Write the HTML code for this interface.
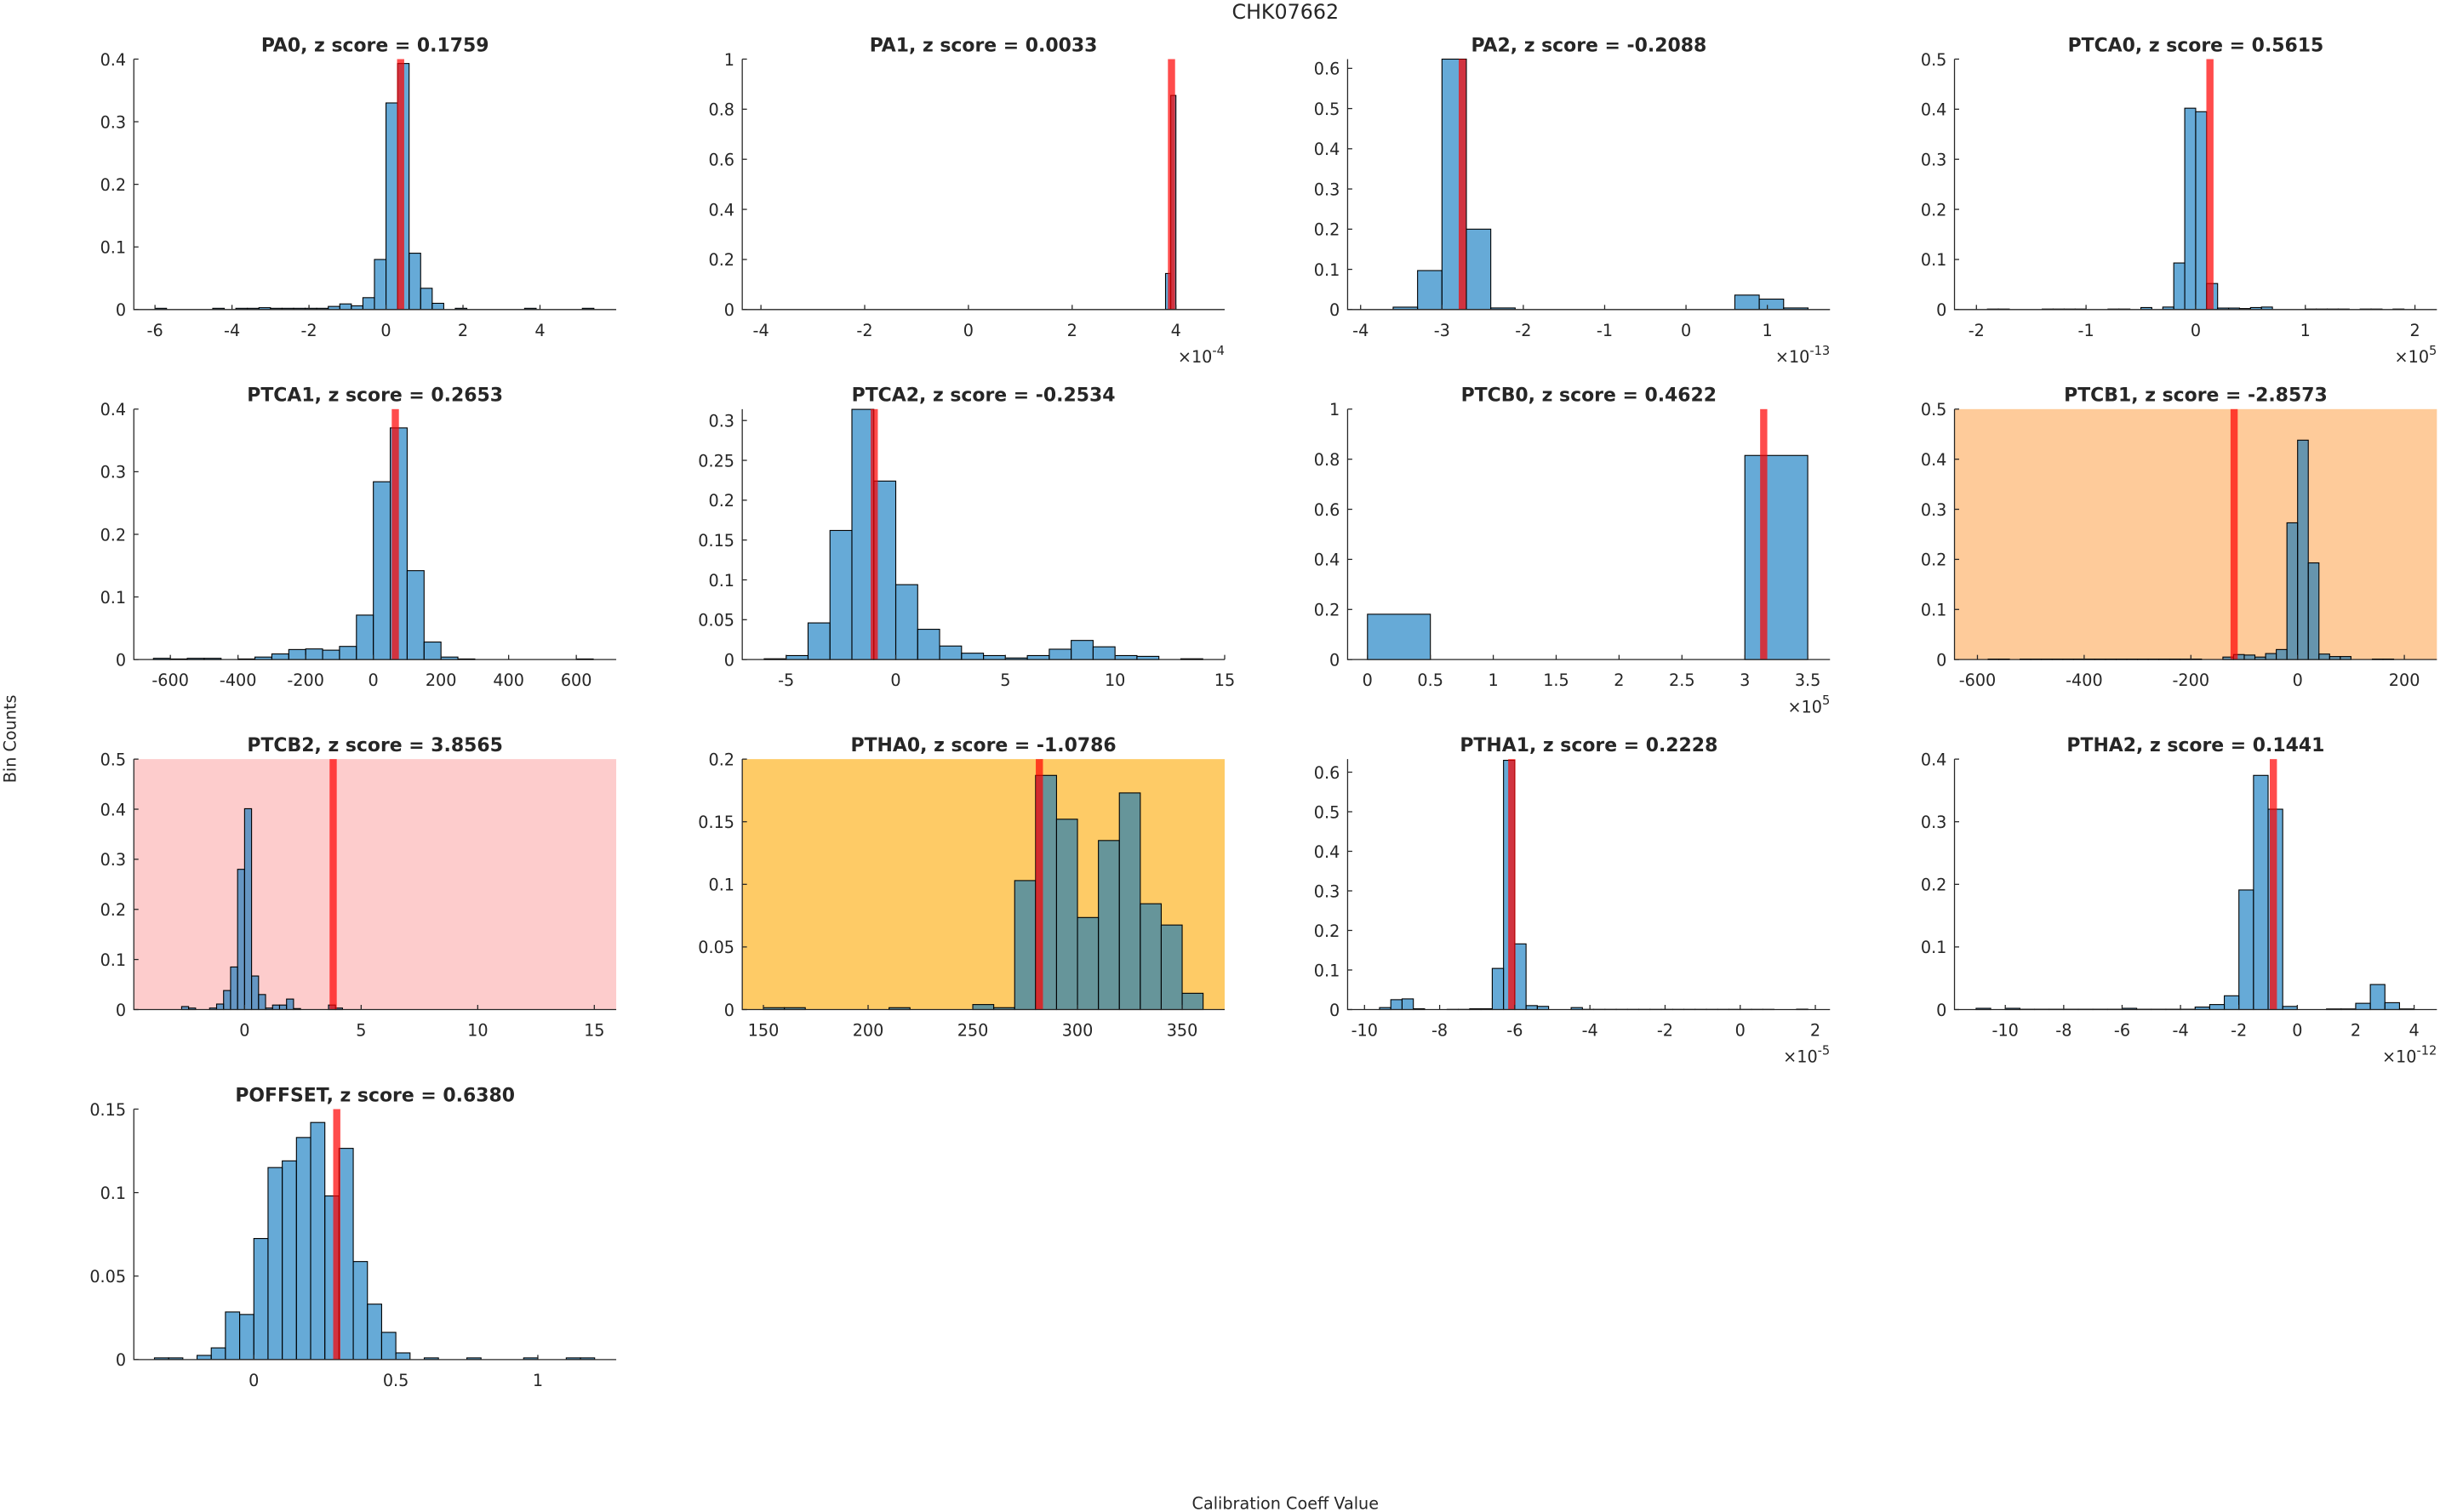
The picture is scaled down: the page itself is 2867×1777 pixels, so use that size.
<!DOCTYPE html>
<html>
<head>
<meta charset="utf-8">
<style>
  html, body { margin: 0; padding: 0; background: #ffffff; }
  svg { display: block; }
  text { font-family: "DejaVu Sans", "Liberation Sans", sans-serif; fill: #262626; }
</style>
</head>
<body>
<svg id="fig" xmlns="http://www.w3.org/2000/svg" width="2867" height="1777" viewBox="0 0 1568 972" preserveAspectRatio="none">
  <rect x="0" y="0" width="1568" height="972" fill="#ffffff"/>
  <text x="826" y="12" font-size="13" text-anchor="middle">CHK07662</text>
  <text x="0" y="0" font-size="10.5" text-anchor="middle" transform="translate(10,475) rotate(-90)">Bin Counts</text>
  <text x="826" y="970" font-size="10.5" text-anchor="middle">Calibration Coeff Value</text>
  <g id="plots"></g>
</svg>
<script>
// ---- chart data ----
const plotNames = ["PA0","PA1","PA2","PTCA0","PTCA1","PTCA2","PTCB0","PTCB1","PTCB2","PTHA0","PTHA1","PTHA2","POFFSET"];
const zScores = ["0.1759","0.0033","-0.2088","0.5615","0.2653","-0.2534","0.4622","-2.8573","3.8565","-1.0786","0.2228","0.1441","0.6380"];
const redLineValues = [0.38, 3.915, -2.75, 0.13, 65, -0.98, 3.15, -119, 3.8, 281.8, -6.08, -0.82, 0.292];
const xLimits = [[-6.55,5.98],[-4.36,4.94],[-4.16,1.77],[-2.2,2.2],[-708,718],[-7.0,15],[-0.158,3.677],[-643,261],[-4.75,15.94],[139.9,370.3],[-10.45,2.39],[-11.74,4.78],[-0.4226,1.276]];
const yMaxes = [0.4, 1, 0.623, 0.5, 0.4, 0.3143, 1, 0.5, 0.5, 0.2, 0.633, 0.4, 0.15];
const xTickLabels = [
  [-6,-4,-2,0,2,4],[-4,-2,0,2,4],[-4,-3,-2,-1,0,1],[-2,-1,0,1,2],
  [-600,-400,-200,0,200,400,600],[-5,0,5,10,15],[0,0.5,1,1.5,2,2.5,3,3.5],[-600,-400,-200,0,200],
  [0,5,10,15],[150,200,250,300,350],[-10,-8,-6,-4,-2,0,2],[-10,-8,-6,-4,-2,0,2,4],[0,0.5,1]
];
const yTickLabels = [
  [0,0.1,0.2,0.3,0.4],[0,0.2,0.4,0.6,0.8,1],[0,0.1,0.2,0.3,0.4,0.5,0.6],[0,0.1,0.2,0.3,0.4,0.5],
  [0,0.1,0.2,0.3,0.4],[0,0.05,0.1,0.15,0.2,0.25,0.3],[0,0.2,0.4,0.6,0.8,1],[0,0.1,0.2,0.3,0.4,0.5],
  [0,0.1,0.2,0.3,0.4,0.5],[0,0.05,0.1,0.15,0.2],[0,0.1,0.2,0.3,0.4,0.5,0.6],[0,0.1,0.2,0.3,0.4],[0,0.05,0.1,0.15]
];
const exponents = ["", "-4", "-13", "5", "", "", "5", "", "", "", "-5", "-12", ""];
const backgrounds = ["", "", "", "", "", "", "", "#fecb9a", "#fdcccc", "#fecb66", "", "", ""];
// bin starts / widths (uniform bins), explicit edges where irregular
const binStarts = [-6, null, -3.9, -1.9, -650, -6, 0, -580, null, 150, -9.6, -11, -0.35];
const binWidths = [0.3, null, 0.3, 0.1, 50, 1, 0.5, 20, null, 10, 0.3, 0.5, 0.05];
const pa1Edges = [-4, 3.8, 3.9, 4.0, 4.4];
const ptcb2Edges = [-3.9,-2.7,-2.4,-2.1,-1.8,-1.5,-1.2,-0.9,-0.6,-0.3,0,0.3,0.6,0.9,1.2,1.5,1.8,2.1,2.4,2.7,3.0,3.3,3.6,3.9,4.2,14.7];
// bin counts (normalized)
const pa0Counts = [0.002,0,0,0,0,0.002,0,0.002,0.002,0.003,0.002,0.002,0.002,0.002,0.002,0.005,0.009,0.006,0.019,0.08,0.33,0.393,0.09,0.034,0.01,0,0.002,0,0,0,0,0,0.002,0,0,0,0,0.002];
const pa1Counts = [0, 0.144, 0.855, 0];
const pa2Counts = [0,0.006,0.097,0.623,0.2,0.004,0,0,0,0,0,0,0,0,0,0.036,0.026,0.004];
const ptca0Counts = [0.001,0.001,0,0,0,0.001,0.001,0.001,0.001,0,0,0.001,0.001,0,0.004,0,0.005,0.093,0.402,0.395,0.052,0.003,0.003,0.002,0.004,0.005,0,0,0,0.001,0.001,0.001,0.001,0,0.001,0.001,0,0.001];
const ptca1Counts = [0.002,0.001,0.002,0.002,0,0.001,0.004,0.009,0.016,0.017,0.015,0.021,0.071,0.284,0.37,0.142,0.028,0.004,0.001,0,0,0,0,0,0,0.001];
const ptca2Counts = [0.001,0.005,0.046,0.162,0.314,0.224,0.094,0.038,0.017,0.008,0.005,0.002,0.005,0.013,0.024,0.016,0.005,0.004,0,0.001];
const ptcb0Counts = [0.181,0,0,0,0,0,0.815];
const ptcb1Counts = [0.001,0.001,0,0.001,0.001,0.001,0.001,0.001,0.001,0.001,0.001,0.001,0.001,0.001,0.001,0.001,0.001,0.001,0.001,0.001,0,0,0.005,0.01,0.009,0.005,0.012,0.02,0.273,0.438,0.193,0.011,0.006,0.006,0,0,0.001,0.001,0];
const ptcb2Counts = [0,0.006,0.003,0,0,0.003,0.011,0.038,0.085,0.28,0.401,0.067,0.03,0.003,0.009,0.009,0.021,0.002,0,0,0,0,0.009,0.003,0];
const ptha0Counts = [0.0015,0.0015,0,0,0,0,0.0015,0,0,0,0.004,0.0015,0.103,0.187,0.152,0.0735,0.135,0.173,0.0845,0.0675,0.013];
const ptha1Counts = [0.005,0.025,0.027,0.002,0,0,0.0005,0.0005,0.002,0.002,0.104,0.63,0.166,0.01,0.008,0,0,0.005,0.0005,0.0005,0.0005,0.0005,0.0005,0.0005,0.0005,0.0005,0.0005,0.0005,0.0005,0.0005,0.0005,0.0005,0.0005,0.0005,0.0005,0,0,0.001];
const ptha2Counts = [0.002,0,0.002,0.0005,0.0005,0.0005,0.0005,0.0005,0.0005,0.0005,0.002,0.0005,0.0005,0.0005,0.0005,0.004,0.008,0.022,0.191,0.374,0.32,0.005,0,0,0.001,0.001,0.01,0.04,0.011,0.001];
const poffsetCounts = [0.001,0.001,0,0.0025,0.007,0.0285,0.027,0.0725,0.115,0.119,0.133,0.142,0.098,0.1265,0.0587,0.0332,0.0163,0.004,0,0.001,0,0,0.001,0,0,0,0.001,0,0,0.001,0.001];

const allCounts = [pa0Counts,pa1Counts,pa2Counts,ptca0Counts,ptca1Counts,ptca2Counts,ptcb0Counts,ptcb1Counts,ptcb2Counts,ptha0Counts,ptha1Counts,ptha2Counts,poffsetCounts];
const explicitEdges = {1: pa1Edges, 8: ptcb2Edges};

// ---- layout ----
const colLefts = [86, 477, 866, 1256];
const colWidth = 310;
const rowTops = [38, 263, 488, 713];
const rowHeight = 161;
const NS = "http://www.w3.org/2000/svg";
const root = document.getElementById('plots');

function mk(tag, attrs, parent) {
  const e = document.createElementNS(NS, tag);
  for (const k in attrs) e.setAttribute(k, attrs[k]);
  parent.appendChild(e);
  return e;
}
function fmt(v) {
  return String(Math.round(v * 1000) / 1000);
}

plotNames.forEach((name, i) => {
  const col = i % 4, row = Math.floor(i / 4);
  const L = colLefts[col], T = rowTops[row], W = colWidth, H = rowHeight;
  const B = T + H, R = L + W;
  const [xmin, xmax] = xLimits[i];
  const ymax = yMaxes[i];
  const sx = v => L + (v - xmin) / (xmax - xmin) * W;
  const sy = v => B - v / ymax * H;
  const slug = name.toLowerCase();

  const g = mk('g', {}, root);
  
  

  if (backgrounds[i]) {
    const bg = mk('rect', {x: L, y: T, width: W, height: H, fill: backgrounds[i]}, g);
    
    
  }

  const counts = allCounts[i];
  let edges = explicitEdges[i];
  if (!edges) {
    edges = [];
    for (let k = 0; k <= counts.length; k++) edges.push(binStarts[i] + k * binWidths[i]);
  }
  const bars = mk('g', {}, g);
  
  
  counts.forEach((c, k) => {
    const x0 = sx(edges[k]), x1 = sx(edges[k + 1]);
    const y = sy(c);
    const r = mk('rect', {x: x0, y: y, width: Math.max(0, x1 - x0), height: Math.max(0, B - y),
      fill: 'rgba(0,114,189,0.6)', stroke: '#000', 'stroke-width': 0.6}, bars);
    
    
  });

  const rx = sx(redLineValues[i]);
  const red = mk('rect', {x: rx - 2.3, y: T, width: 4.6, height: H, fill: 'rgba(255,0,0,0.7)'}, g);
  
  

  const ax = mk('path', {d: `M${L},${T} V${B} H${R}`, fill: 'none', stroke: '#262626', 'stroke-width': 0.7}, g);
  
  

  xTickLabels[i].forEach(v => {
    const x = sx(v);
    const t = mk('line', {x1: x, x2: x, y1: B, y2: B - 3, stroke: '#262626', 'stroke-width': 0.7}, g);
    
    
    const lb = mk('text', {x: x, y: B + 17, 'font-size': 10.5, 'text-anchor': 'middle'}, g);
    lb.textContent = fmt(v);
    
    
  });
  yTickLabels[i].forEach(v => {
    const y = sy(v);
    const t = mk('line', {x1: L, x2: L + 3, y1: y, y2: y, stroke: '#262626', 'stroke-width': 0.7}, g);
    
    
    const lb = mk('text', {x: L - 5, y: y + 4, 'font-size': 10.5, 'text-anchor': 'end'}, g);
    lb.textContent = fmt(v);
    
    
  });

  const title = mk('text', {x: L + W / 2, y: T - 5, 'font-size': 12, 'font-weight': 'bold', 'text-anchor': 'middle', fill: '#000'}, g);
  title.textContent = name + ', z score = ' + zScores[i];
  
  

  if (exponents[i]) {
    const ex = mk('text', {x: R, y: B + 34, 'font-size': 10.5, 'text-anchor': 'end'}, g);
    const t1 = mk('tspan', {}, ex);
    t1.textContent = '\u00d710';
    const t2 = mk('tspan', {dy: -5, 'font-size': 8}, ex);
    t2.textContent = exponents[i];
    
    
  }
});
</script>
</body>
</html>
